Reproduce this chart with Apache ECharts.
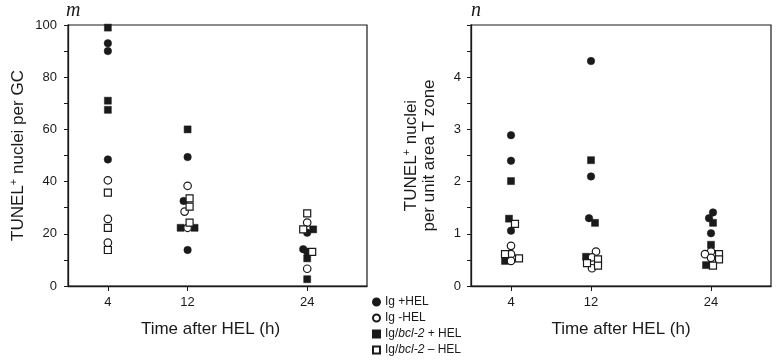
<!DOCTYPE html>
<html>
<head>
<meta charset="utf-8">
<script src="https://cdn.jsdelivr.net/npm/echarts@6/dist/echarts.min.js"></script>
<style>
  body { margin: 0; background: #fff; }
  #chart { width: 776px; height: 360px; }
</style>
</head>
<body>
<div id="chart"></div>
<script>
// x = time after HEL (h), with the small sideways jitter the figure uses
var timeTicks = [4, 12, 24];
var groups = ['Ig +HEL', 'Ig -HEL', 'Ig/bcl-2 + HEL', 'Ig/bcl-2 \u2013 HEL'];

// panel m: TUNEL+ nuclei per GC
var gcIgPlus = [[4, 93], [4, 90], [4, 48.5], [12, 49.4], [11.6, 32.6], [12, 13.8], [24, 20.4], [23.6, 14.1], [24, 13.1]];
var gcIgMinus = [[4, 40.5], [4, 25.7], [4, 16.6], [12, 38.4], [11.7, 28.5], [12, 22.3], [24, 24.3], [24, 6.6]];
var gcBclPlus = [[4, 99], [4, 71], [4, 67.5], [12, 60], [11.3, 22.3], [12.7, 22.3], [24.6, 21.7], [24, 10.6], [24, 2.6]];
var gcBclMinus = [[4, 35.8], [4, 22.3], [4, 13.8], [12.2, 33.6], [12.2, 30.4], [12.2, 24.3], [24, 27.8], [23.6, 21.7], [24.5, 13.1]];

// panel n: TUNEL+ nuclei per unit area T zone
var tzIgPlus = [[4, 2.89], [4, 2.40], [4, 1.06], [12, 4.31], [12, 2.10], [11.8, 1.30], [24.2, 1.41], [23.8, 1.30], [24, 1.01]];
var tzIgMinus = [[4, 0.77], [4, 0.61], [4, 0.48], [12.5, 0.66], [12.1, 0.55], [12.1, 0.34], [24, 0.66], [23.4, 0.61], [24, 0.54]];
var tzBclPlus = [[4, 2.01], [3.8, 1.29], [3.4, 0.48], [12, 2.41], [12.4, 1.21], [11.5, 0.56], [24.2, 1.21], [24, 0.79], [23.5, 0.40]];
var tzBclMinus = [[4.4, 1.19], [3.4, 0.61], [4.8, 0.53], [12.7, 0.51], [11.6, 0.44], [12.7, 0.39], [24.8, 0.61], [24.8, 0.51], [24.2, 0.39]];

var ink = '#1a1a1a';
var font = 'Liberation Sans';

// marker look per group: [symbol, filled]
var markers = [['circle', true], ['circle', false], ['rect', true], ['rect', false]];

function groupSeries(idx, name, data) {
  var m = markers[idx];
  return {
    type: 'scatter',
    name: name,
    data: data,
    symbol: m[0],
    symbolSize: m[0] === 'circle' ? 7.5 : 7,
    itemStyle: m[1]
      ? { color: ink, borderColor: ink, borderWidth: 0.5, opacity: 1 }
      : { color: '#fff', borderColor: ink, borderWidth: 1.2, opacity: 1 },
    emphasis: { disabled: true },
  };
}

function panelSeries(gridIdx, sets) {
  // draw filled first, open on top
  var order = [0, 2, 1, 3];
  return order.map(function (g) {
    var s = groupSeries(g, groups[g], sets[g]);
    s.xAxisIndex = gridIdx;
    s.yAxisIndex = gridIdx;
    return s;
  });
}

function xAxis(gridIdx, shift) {
  return {
    type: 'value',
    gridIndex: gridIdx,
    min: 0,
    max: 30,
    name: 'Time after HEL (h)',
    nameLocation: 'middle',
    nameGap: 35,
    nameTextStyle: { fontFamily: font, fontSize: 17, color: ink, padding: [0, shift, 0, 0] },
    axisLine: { lineStyle: { color: ink, width: 1.3 } },
    axisTick: { customValues: timeTicks, length: 5, lineStyle: { color: ink } },
    axisLabel: { customValues: timeTicks, margin: 10, fontFamily: font, fontSize: 13, color: ink },
    splitLine: { show: false },
  };
}

var nameRich = {
  a: { fontFamily: font, fontSize: 17, color: ink, lineHeight: 16 },
  sup: { fontFamily: font, fontSize: 11, color: ink, padding: [0, 0, 9, 0] },
};

var option = {
  animation: false,
  backgroundColor: '#fff',
  grid: [
    { left: 68, top: 25, width: 299, height: 261, show: true, borderColor: ink, borderWidth: 1.2 },
    { left: 471, top: 25, width: 300, height: 261, show: true, borderColor: ink, borderWidth: 1.2 },
  ],
  xAxis: [xAxis(0, 14), xAxis(1, 0)],
  yAxis: [
    {
      type: 'value',
      gridIndex: 0,
      min: 0,
      max: 100,
      interval: 20,
      name: '{a|TUNEL}{sup|+}{a| nuclei per GC}',
      nameLocation: 'middle',
      nameGap: 40,
      nameTextStyle: { rich: nameRich },
      axisLine: { show: true, lineStyle: { color: ink, width: 1.3 } },
      axisTick: { show: true, length: 4, lineStyle: { color: ink } },
      minorTick: { show: true, splitNumber: 2, length: 4, lineStyle: { color: ink } },
      axisLabel: { margin: 11, fontFamily: font, fontSize: 13, color: ink },
      splitLine: { show: false },
    },
    {
      type: 'value',
      gridIndex: 1,
      min: 0,
      max: 5,
      interval: 1,
      name: '{a|TUNEL}{sup|+}{a| nuclei}\n{a|per unit area T zone}',
      nameLocation: 'middle',
      nameGap: 34,
      nameTextStyle: { rich: nameRich, align: 'center' },
      axisLine: { show: true, lineStyle: { color: ink, width: 1.3 } },
      axisTick: { show: true, length: 4, lineStyle: { color: ink } },
      minorTick: { show: true, splitNumber: 2, length: 4, lineStyle: { color: ink } },
      axisLabel: { margin: 10, showMaxLabel: false, fontFamily: font, fontSize: 13, color: ink },
      splitLine: { show: false },
    },
  ],
  legend: {
    orient: 'vertical',
    left: 372,
    top: 296,
    data: groups,
    itemWidth: 7,
    itemHeight: 7,
    itemGap: 4,
    padding: 0,
    selectedMode: false,
    formatter: function (n) { return n.replace('bcl-2', '{i|bcl-2}'); },
    textStyle: {
      fontFamily: font, fontSize: 12, color: ink,
      rich: { i: { fontFamily: font, fontSize: 12, fontStyle: 'italic', color: ink } },
    },
  },
  graphic: [
    { type: 'text', left: 66, top: 1, style: { text: 'm', font: 'italic 20px "Liberation Serif"', fill: ink } },
    { type: 'text', left: 471, top: 1, style: { text: 'n', font: 'italic 20px "Liberation Serif"', fill: ink } },
  ],
  series: panelSeries(0, [gcIgPlus, gcIgMinus, gcBclPlus, gcBclMinus])
    .concat(panelSeries(1, [tzIgPlus, tzIgMinus, tzBclPlus, tzBclMinus])),
};

var chart = echarts.init(document.getElementById('chart'));
chart.setOption(option);
</script>
</body>
</html>
